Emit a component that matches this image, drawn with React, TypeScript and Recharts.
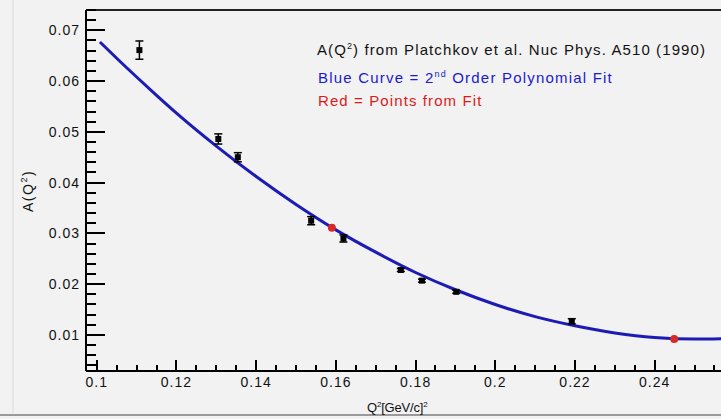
import React from 'react';
import {
  ComposedChart,
  Line,
  Scatter,
  ErrorBar,
  XAxis,
  YAxis,
  ReferenceLine,
} from 'recharts';

// axis ranges of the frame
const X_DOMAIN: [number, number] = [0.0973, 0.2584];
const Y_DOMAIN: [number, number] = [0.0029, 0.074];

const X_MAJOR = [0.1, 0.12, 0.14, 0.16, 0.18, 0.2, 0.22, 0.24];
const Y_MAJOR = [0.01, 0.02, 0.03, 0.04, 0.05, 0.06, 0.07];

// measured A(Q^2) with errors
const MEAS_Q2 = [0.1107, 0.1305, 0.1354, 0.1538, 0.1619, 0.1763, 0.1816, 0.1902, 0.2192];
const MEAS_A = [0.0661, 0.0486, 0.045, 0.0325, 0.029, 0.0228, 0.0207, 0.0185, 0.0127];
const MEAS_ERR = [0.0018, 0.001, 0.0009, 0.0008, 0.0007, 0.0003, 0.0003, 0.0003, 0.0005];

// 2nd order polynomial fit curve
const FIT_Q2 = [
  0.1008, 0.105, 0.11, 0.115, 0.12, 0.13, 0.14, 0.15, 0.16, 0.17, 0.18, 0.19, 0.2, 0.21,
  0.22, 0.23, 0.24, 0.25, 0.2584,
];
const FIT_A = [
  0.0677, 0.0645, 0.0608, 0.0572, 0.0537, 0.0472, 0.0412, 0.0357, 0.0307, 0.0263, 0.0223,
  0.0189, 0.016, 0.0136, 0.0118, 0.0104, 0.0095, 0.0092, 0.0093,
];

// points taken from the fit
const PICK_Q2 = [0.159, 0.2449];
const PICK_A = [0.0311, 0.0092];

const FONT = '"Liberation Sans", Arial, Helvetica, sans-serif';
const BLUE = '#1c1cb4';

const CHART_W = 740;
const CHART_H = 419;
const MARGIN = { top: 10, right: 12, bottom: 18, left: 26 };
const Y_AXIS_W = 60;
const X_AXIS_H = 30;

// plot box, same one the chart lays out from the margins and axis sizes
const PLOT = {
  left: MARGIN.left + Y_AXIS_W,
  top: MARGIN.top,
  width: CHART_W - MARGIN.left - MARGIN.right - Y_AXIS_W,
  height: CHART_H - MARGIN.top - MARGIN.bottom - X_AXIS_H,
};
const sx = (v: number) => PLOT.left + ((v - X_DOMAIN[0]) / (X_DOMAIN[1] - X_DOMAIN[0])) * PLOT.width;
const sy = (v: number) =>
  PLOT.top + PLOT.height - ((v - Y_DOMAIN[0]) / (Y_DOMAIN[1] - Y_DOMAIN[0])) * PLOT.height;

const measData = MEAS_Q2.map((x, i) => ({ x, y: MEAS_A[i], err: MEAS_ERR[i] }));
const fitData = FIT_Q2.map((x, i) => ({ x, y: FIT_A[i] }));
const pickData = PICK_Q2.map((x, i) => ({ x, y: PICK_A[i] }));

const round = (v: number) => Math.round(v * 10000) / 10000;
const isMajor = (v: number, majors: number[]) => majors.some((m) => Math.abs(m - v) < 1e-7);

const xMinor: number[] = [];
for (let i = 1; i <= 31; i++) {
  const v = round(0.1 + i * 0.005);
  if (!isMajor(v, X_MAJOR)) xMinor.push(v);
}
const yMinor: number[] = [];
for (let i = 2; i <= 37; i++) {
  const v = round(i * 0.002);
  if (!isMajor(v, Y_MAJOR)) yMinor.push(v);
}

const TICK_MARGIN = 6;

function XTick(props: any) {
  const { x, y, payload } = props;
  return (
    <text x={x} y={y + 10} textAnchor="middle" fontFamily={FONT} fontSize={14} letterSpacing={1} fill="#111">
      {String(payload.value)}
    </text>
  );
}

function YTick(props: any) {
  const { x, y, payload } = props;
  return (
    <text x={x} y={y + 5} textAnchor="end" fontFamily={FONT} fontSize={14} letterSpacing={1} fill="#111">
      {payload.value.toFixed(2)}
    </text>
  );
}

const square = (p: any) => <rect x={p.cx - 3} y={p.cy - 3} width={6} height={6} fill="#000" />;
const dot = (p: any) => <circle cx={p.cx} cy={p.cy} r={4} fill="#d42a2a" />;

// inward tick marks along the bottom and left edges of the frame, as thin boxes
function FrameTicks() {
  const bottom = PLOT.top + PLOT.height;
  const box = (key: string, left: number, top: number, w: number, h: number) => (
    <div key={key} style={{ position: 'absolute', left, top, width: w, height: h, background: '#000' }} />
  );
  return (
    <div style={{ position: 'absolute', left: 0, top: 0, width: 721, height: 419, pointerEvents: 'none' }}>
      {X_MAJOR.map((v) => box('xM' + v, sx(v) - 1, bottom - 11, 2, 11))}
      {xMinor.map((v) => box('xm' + v, sx(v) - 1, bottom - 6, 2, 6))}
      {Y_MAJOR.map((v) => box('yM' + v, PLOT.left, sy(v) - 1, 19, 2))}
      {yMinor.map((v) => box('ym' + v, PLOT.left, sy(v) - 1, 10, 2))}
    </div>
  );
}

export default function App() {
  return (
    <div
      style={{
        position: 'absolute',
        left: 0,
        top: 0,
        width: 721,
        height: 419,
        overflow: 'hidden',
        background: '#f2f2f2',
      }}
    >
      <ComposedChart width={CHART_W} height={CHART_H} margin={MARGIN}>
        <XAxis
          dataKey="x"
          type="number"
          domain={X_DOMAIN}
          allowDataOverflow
          ticks={X_MAJOR}
          interval={0}
          tickSize={0}
          tickMargin={TICK_MARGIN}
          tick={XTick}
          axisLine={{ stroke: '#000', strokeWidth: 2 }}
          height={X_AXIS_H}
        />
        <YAxis
          dataKey="y"
          type="number"
          domain={Y_DOMAIN}
          allowDataOverflow
          ticks={Y_MAJOR}
          interval={0}
          tickSize={0}
          tickMargin={TICK_MARGIN}
          tick={YTick}
          axisLine={{ stroke: '#000', strokeWidth: 2 }}
          width={Y_AXIS_W}
        />
        <ReferenceLine y={Y_DOMAIN[1]} stroke="#222" strokeWidth={2} />

        <Line
          data={fitData}
          dataKey="y"
          type="monotone"
          stroke={BLUE}
          strokeWidth={3}
          dot={false}
          activeDot={false}
          isAnimationActive={false}
        />
        <Scatter data={measData} dataKey="y" shape={square} isAnimationActive={false}>
          <ErrorBar dataKey="err" direction="y" width={4} stroke="#000" strokeWidth={1.5} />
        </Scatter>
        <Scatter data={pickData} dataKey="y" shape={dot} isAnimationActive={false} />
      </ComposedChart>

      <FrameTicks />

      <svg
        width={721}
        height={419}
        style={{ position: 'absolute', left: 0, top: 0, pointerEvents: 'none' }}
        fontFamily={FONT}
      >
        <line x1={13} x2={13} y1={0} y2={413} stroke="#dcdcdc" strokeWidth={1} />
        <line x1={0} x2={721} y1={415} y2={415} stroke="#9a9a9a" strokeWidth={2} />

        <text x={317} y={55} fontSize={15} letterSpacing={1.1} fill="#111">
          A(Q<tspan dy={-6} fontSize={9}>2</tspan>
          <tspan dy={6}>) from Platchkov et al. Nuc Phys. A510 (1990)</tspan>
        </text>
        <text x={318} y={83} fontSize={15} letterSpacing={1.2} fill="#1a1acc">
          Blue Curve = 2<tspan dy={-6} fontSize={9}>nd</tspan>
          <tspan dy={6}> Order Polynomial Fit</tspan>
        </text>
        <text x={318} y={106} fontSize={15} letterSpacing={1.1} fill="#dd1a1a">
          Red = Points from Fit
        </text>

        <text x={367} y={412} fontSize={13} letterSpacing={-0.2} fill="#111">
          Q<tspan dy={-5} fontSize={8}>2</tspan>
          <tspan dy={5}>[GeV/c]</tspan>
          <tspan dy={-5} fontSize={8}>2</tspan>
        </text>
        <text transform="translate(33,212) rotate(-90)" fontSize={14} letterSpacing={1.5} fill="#111">
          A(Q<tspan dy={-6} fontSize={9}>2</tspan>
          <tspan dy={6}>)</tspan>
        </text>
      </svg>
    </div>
  );
}
